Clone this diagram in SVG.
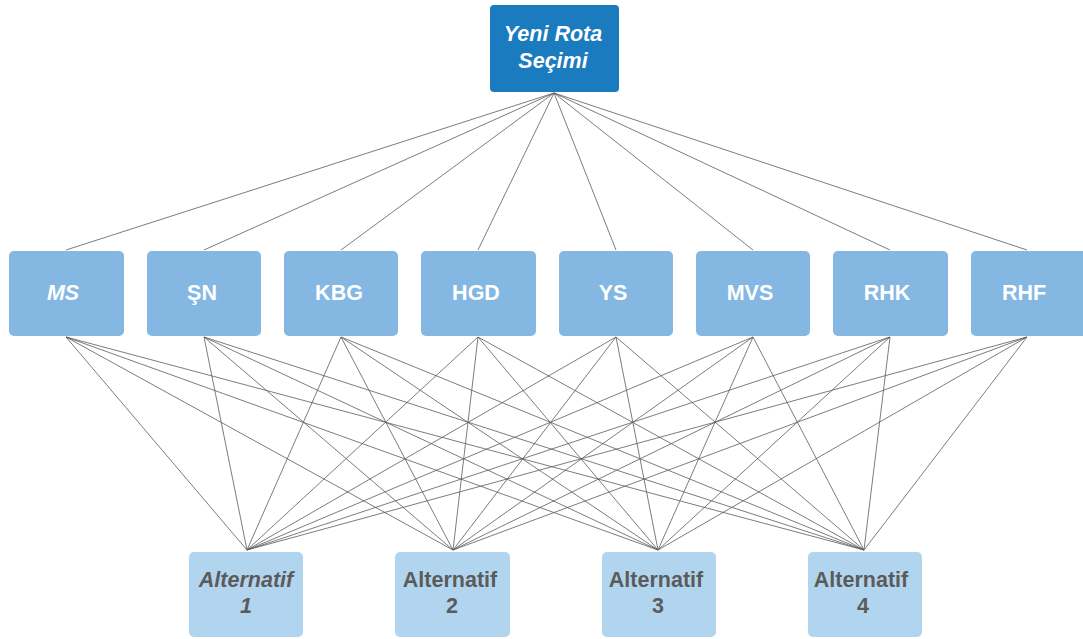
<svg xmlns="http://www.w3.org/2000/svg" width="1083" height="639" viewBox="0 0 1083 639">
  <style>
    .edge { stroke: #5a5a5a; stroke-width: 0.8; fill: none; }
    .goal rect { fill: #1b7bbf; }
    .crit rect { fill: #84b8e2; }
    .alt rect { fill: #b2d5ef; }
    text { font-family: "Liberation Sans", Arial, sans-serif; font-weight: bold; font-size: 21.5px; text-anchor: middle; }
    .goal text, .crit text { fill: #ffffff; }
    .alt text { fill: #5b5b5b; }
    .it { font-style: italic; }
  </style>
  <rect width="1083" height="639" fill="#ffffff"/>

  <!-- connectors -->
  <g id="connectors">
    <!-- goal to criteria -->
    <path class="edge" d="M554 93 L66 250 M554 93 L204 250 M554 93 L341 250 M554 93 L478 250 M554 93 L616 250 M554 93 L753 250 M554 93 L890 250 M554 93 L1027 250"/>
    <!-- criteria to alternatives -->
    <path class="edge" d="M66 337 L247 550 M66 337 L453 550 M66 337 L658 550 M66 337 L864 550"/>
    <path class="edge" d="M204 337 L247 550 M204 337 L453 550 M204 337 L658 550 M204 337 L864 550"/>
    <path class="edge" d="M341 337 L247 550 M341 337 L453 550 M341 337 L658 550 M341 337 L864 550"/>
    <path class="edge" d="M478 337 L247 550 M478 337 L453 550 M478 337 L658 550 M478 337 L864 550"/>
    <path class="edge" d="M616 337 L247 550 M616 337 L453 550 M616 337 L658 550 M616 337 L864 550"/>
    <path class="edge" d="M753 337 L247 550 M753 337 L453 550 M753 337 L658 550 M753 337 L864 550"/>
    <path class="edge" d="M890 337 L247 550 M890 337 L453 550 M890 337 L658 550 M890 337 L864 550"/>
    <path class="edge" d="M1027 337 L247 550 M1027 337 L453 550 M1027 337 L658 550 M1027 337 L864 550"/>
  </g>

  <!-- goal -->
  <g id="goal" class="goal">
    <rect x="490" y="5" width="129" height="87" rx="4"/>
    <text class="it" x="553" y="41">Yeni Rota</text>
    <text class="it" x="553" y="68">Seçimi</text>
  </g>

  <!-- criteria -->
  <g id="crit-ms" class="crit">
    <rect x="9" y="251" width="115" height="85" rx="5"/>
    <text class="it" x="63" y="300">MS</text>
  </g>
  <g id="crit-sn" class="crit">
    <rect x="147" y="251" width="114" height="85" rx="5"/>
    <text x="202" y="300">ŞN</text>
  </g>
  <g id="crit-kbg" class="crit">
    <rect x="284" y="251" width="114" height="85" rx="5"/>
    <text x="339" y="300">KBG</text>
  </g>
  <g id="crit-hgd" class="crit">
    <rect x="421" y="251" width="115" height="85" rx="5"/>
    <text x="476" y="300">HGD</text>
  </g>
  <g id="crit-ys" class="crit">
    <rect x="559" y="251" width="114" height="85" rx="5"/>
    <text x="613" y="300">YS</text>
  </g>
  <g id="crit-mvs" class="crit">
    <rect x="696" y="251" width="114" height="85" rx="5"/>
    <text x="750" y="300">MVS</text>
  </g>
  <g id="crit-rhk" class="crit">
    <rect x="833" y="251" width="115" height="85" rx="5"/>
    <text x="887" y="300">RHK</text>
  </g>
  <g id="crit-rhf" class="crit">
    <rect x="971" y="251" width="116" height="85" rx="5"/>
    <text x="1024" y="300">RHF</text>
  </g>

  <!-- alternatives -->
  <g id="alt-1" class="alt">
    <rect x="189" y="552" width="114" height="85" rx="5"/>
    <text class="it" x="246" y="587">Alternatif</text>
    <text class="it" x="246" y="613">1</text>
  </g>
  <g id="alt-2" class="alt">
    <rect x="395" y="552" width="115" height="85" rx="5"/>
    <text x="450" y="587">Alternatif</text>
    <text x="452" y="613">2</text>
  </g>
  <g id="alt-3" class="alt">
    <rect x="602" y="552" width="114" height="85" rx="5"/>
    <text x="656" y="587">Alternatif</text>
    <text x="658" y="613">3</text>
  </g>
  <g id="alt-4" class="alt">
    <rect x="808" y="552" width="114" height="85" rx="5"/>
    <text x="861" y="587">Alternatif</text>
    <text x="863" y="613">4</text>
  </g>
</svg>
